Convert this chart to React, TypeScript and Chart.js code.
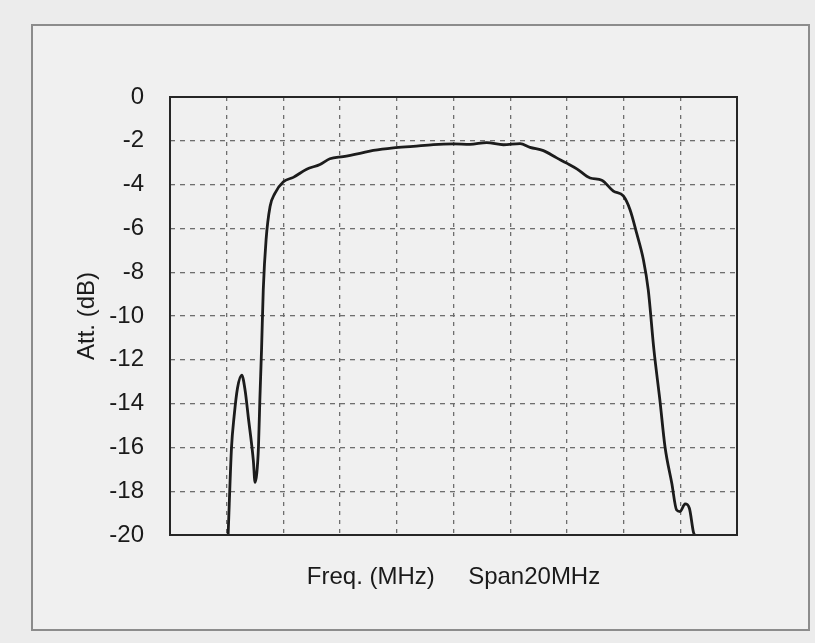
import React, { useEffect, useRef } from "react";
import { Chart, registerables } from "chart.js";

Chart.register(...registerables);

// Frequency offset within the 20 MHz span (MHz) and attenuation (dB)
const freq = [
  2.05, 2.17, 2.26, 2.38, 2.53, 2.65, 2.76, 2.94, 3.0, 3.06, 3.12, 3.17, 3.23, 3.29,
  3.39, 3.53, 3.7, 4.0, 4.35, 4.82, 5.29, 5.64, 6.11, 6.7, 7.17, 7.88, 8.58, 9.29,
  10.0, 10.58, 11.17, 11.76, 12.35, 12.7, 13.17, 13.64, 13.99, 14.35, 14.82, 15.23,
  15.64, 15.99, 16.23, 16.46, 16.7, 16.87, 17.07, 17.28, 17.46, 17.7, 17.87, 17.99,
  18.17, 18.32, 18.46, 18.5,
];
const att = [
  -20, -16.0, -14.6, -13.3, -12.7, -13.4, -14.6, -16.6, -17.6, -17.2, -16.0, -13.8,
  -11.5, -8.8, -6.5, -5.0, -4.4, -3.87, -3.67, -3.3, -3.08, -2.82, -2.72, -2.57, -2.44,
  -2.32, -2.25, -2.17, -2.14, -2.16, -2.08, -2.18, -2.13, -2.3, -2.45, -2.78, -3.02,
  -3.28, -3.7, -3.8, -4.3, -4.52, -5.16, -6.22, -7.44, -8.81, -11.55, -13.84,
  -15.97, -17.64, -18.86, -18.93, -18.58, -18.78, -19.85, -20,
];
const xRange = [0, 20];
const yRange = [-20, 0];
const xStep = 2;
const yStep = 2;
const xTitle = "Freq. (MHz)     Span20MHz";
const yTitle = "Att. (dB)";

const frame = {
  id: "frame",
  afterDatasetsDraw(chart: any) {
    const { ctx, chartArea: a } = chart;
    ctx.save();
    ctx.strokeStyle = "#262626";
    ctx.lineWidth = 2;
    ctx.strokeRect(a.left, a.top, a.right - a.left, a.bottom - a.top);
    ctx.restore();
  },
};

export default function App() {
  const ref = useRef<HTMLCanvasElement>(null);
  useEffect(() => {
    if (!ref.current) return;
    const font = { family: "'Liberation Sans', Arial, sans-serif", size: 24 };
    const chart = new Chart(ref.current, {
      type: "line",
      data: {
        datasets: [
          {
            data: freq.map((f, i) => ({ x: f, y: att[i] })),
            borderColor: "#1c1c1c",
            borderWidth: 2.8,
            pointRadius: 0,
            cubicInterpolationMode: "monotone",
            fill: false,
          },
        ],
      },
      plugins: [frame],
      options: {
        animation: false,
        responsive: false,
        events: [],
        layout: { padding: { left: 0, top: 97, right: 78, bottom: 0 } },
        plugins: { legend: { display: false }, tooltip: { enabled: false } },
        scales: {
          x: {
            type: "linear",
            min: xRange[0],
            max: xRange[1],
            ticks: { stepSize: xStep, display: false },
            grid: { color: "#6e6e6e", lineWidth: 1.3, drawTicks: false },
            border: { display: false, dash: [4, 5] },
            title: {
              display: true,
              text: xTitle,
              color: "#1a1a1a",
              font,
              padding: { top: 0, bottom: 51 },
            },
            afterFit(s: any) {
              s.height = 108;
            },
          },
          y: {
            type: "linear",
            min: yRange[0],
            max: yRange[1],
            ticks: { stepSize: yStep, color: "#1a1a1a", font, padding: 26 },
            grid: { color: "#6e6e6e", lineWidth: 1.3, drawTicks: false },
            border: { display: false, dash: [5, 5] },
            title: {
              display: true,
              text: yTitle,
              color: "#1a1a1a",
              font,
              padding: { top: 73, bottom: 0 },
            },
            afterFit(s: any) {
              s.width = 170;
            },
          },
        },
      },
    });
    return () => chart.destroy();
  }, []);

  return (
    <div
      style={{
        position: "fixed",
        left: 0,
        top: 0,
        width: 815,
        height: 643,
        background: "#ececec",
        overflow: "hidden",
      }}
    >
      <div
        style={{
          position: "absolute",
          left: 31,
          top: 24,
          width: 775,
          height: 603,
          border: "2px solid #8c8c8c",
          background: "#f0f0f0",
        }}
      />
      <canvas
        ref={ref}
        width={815}
        height={643}
        style={{ position: "absolute", left: 0, top: 0, width: 815, height: 643 }}
      />
    </div>
  );
}
